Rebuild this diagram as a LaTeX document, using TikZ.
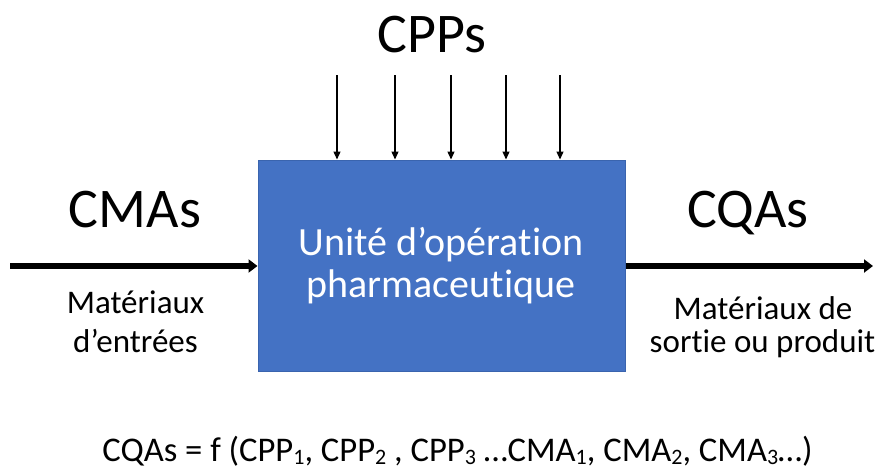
\documentclass[tikz,border=0pt]{standalone}
\usepackage{fontspec}
\setmainfont{Carlito}[Ligatures=CommonOff]
\usetikzlibrary{arrows.meta}
\definecolor{unitblue}{HTML}{4472C4}
\definecolor{unitedge}{HTML}{3A64AE}
\newcommand{\lowidx}[1]{\raisebox{-0.10em}{\fontsize{22}{22}\selectfont #1}}
\begin{document}
\begin{tikzpicture}[x=1pt,y=-1pt,
  unitbox/.style={draw=unitedge, line width=1pt, fill=unitblue, minimum width=367pt,
    minimum height=211pt, inner sep=0pt},
  unittext/.style={text=white, font=\fontsize{40}{40}\selectfont, inner sep=0pt, anchor=base},
  bigtitle/.style={font=\fontsize{56}{56}\selectfont, inner sep=0pt, anchor=base},
  caption/.style={font=\fontsize{33}{33}\selectfont, inner sep=0pt, anchor=base},
  thinarrow/.style={line width=1.3pt, -{Triangle[length=8pt,width=7pt]}},
  thickarrow/.style={line width=6pt, -{Triangle[length=9pt,width=13pt]}}]
\useasboundingbox (0,0) rectangle (885,471);

% process unit
\node[unitbox] (unit) at (441.5,265.5) {};
\node[unittext] (unitA) at (441,255) {Unité d’opération};
\node[unittext] (unitB) at (441,297.5) {pharmaceutique};

% parameters entering from the top
\node[bigtitle] (cpps) at (432,52) {CPPs};
\foreach \i/\xx in {1/337,2/395,3/451,4/506,5/560}{
  \coordinate (p\i) at (\xx,75);
  \draw[thinarrow] (p\i) -- (p\i |- unit.north);
}

% input side
\node[bigtitle] (cmas) at (135,227) {CMAs};
\coordinate (inStart) at (10,266);
\draw[thickarrow] (inStart) -- (unit.west |- inStart);
\node[caption] (inCapA) at (135.5,313) {Matériaux};
\node[caption] (inCapB) at (135.5,352) {d’entrées};

% output side
\node[bigtitle] (cqas) at (748,227) {CQAs};
\coordinate (outEnd) at (873,266);
\draw[thickarrow] (unit.east |- outEnd) -- (outEnd);
\node[caption] (outCapA) at (763,319) {Matériaux de};
\node[caption] (outCapB) at (762.5,352) {sortie ou produit};

% relation
\node[font=\fontsize{34.6}{34.6}\selectfont, inner sep=0pt, anchor=base] (formula) at (457.5,461)
  {CQAs = f (CPP\lowidx{1}, CPP\lowidx{2} , CPP\lowidx{3} …CMA\lowidx{1}, CMA\lowidx{2}, CMA\lowidx{3}…)};
\end{tikzpicture}
\end{document}
